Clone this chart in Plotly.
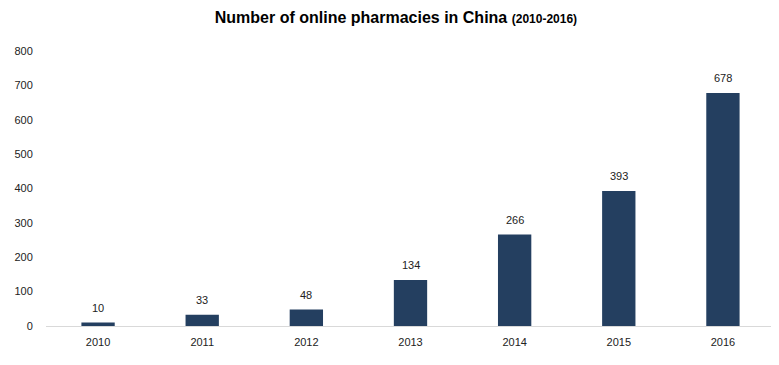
import plotly.graph_objects as go

years = ["2010", "2011", "2012", "2013", "2014", "2015", "2016"]
pharmacies = [10, 33, 48, 134, 266, 393, 678]
y_ticks = [0, 100, 200, 300, 400, 500, 600, 700, 800]

font = "Liberation Sans, Arial, sans-serif"

fig = go.Figure(go.Bar(
    x=years, y=pharmacies,
    marker=dict(color="#243F60", line=dict(width=0)),
    width=0.32,
    hoverinfo="x+y",
))

# category axis: annotation positions given as category index
for i, v in enumerate(pharmacies):
    fig.add_annotation(x=i, y=v, xref="x", yref="y", text=str(v), showarrow=False,
                       yanchor="bottom", yshift=7,
                       font=dict(family=font, size=11, color="#222222"))

fig.update_layout(
    width=779, height=365,
    margin=dict(l=38, r=12, t=43, b=47),
    paper_bgcolor="white", plot_bgcolor="white",
    showlegend=False,
    title=dict(
        text="<b>Number of online pharmacies in China</b> <b><span style='font-size:12px'>(2010-2016)</span></b>",
        x=0.498, xanchor="center", y=0.973, yanchor="middle",
        font=dict(family="Liberation Sans Narrow, Arial Narrow, Liberation Sans, sans-serif", size=16, color="#000000"),
    ),
    xaxis=dict(
        type="category", categoryorder="array", categoryarray=years,
        showgrid=False, showline=True, linecolor="#d9d9d9", linewidth=1,
        ticks="outside", ticklen=6, tickcolor="rgba(0,0,0,0)",
        tickfont=dict(family=font, size=11, color="#222222"),
        fixedrange=True, automargin=False,
    ),
    yaxis=dict(
        range=[0, 800], tickvals=y_ticks, showgrid=False, showline=False, zeroline=False,
        ticks="outside", ticklen=10, tickcolor="rgba(0,0,0,0)",
        tickfont=dict(family=font, size=11, color="#222222"),
        fixedrange=True, automargin=False,
    ),
)

fig.write_html("out.html")
